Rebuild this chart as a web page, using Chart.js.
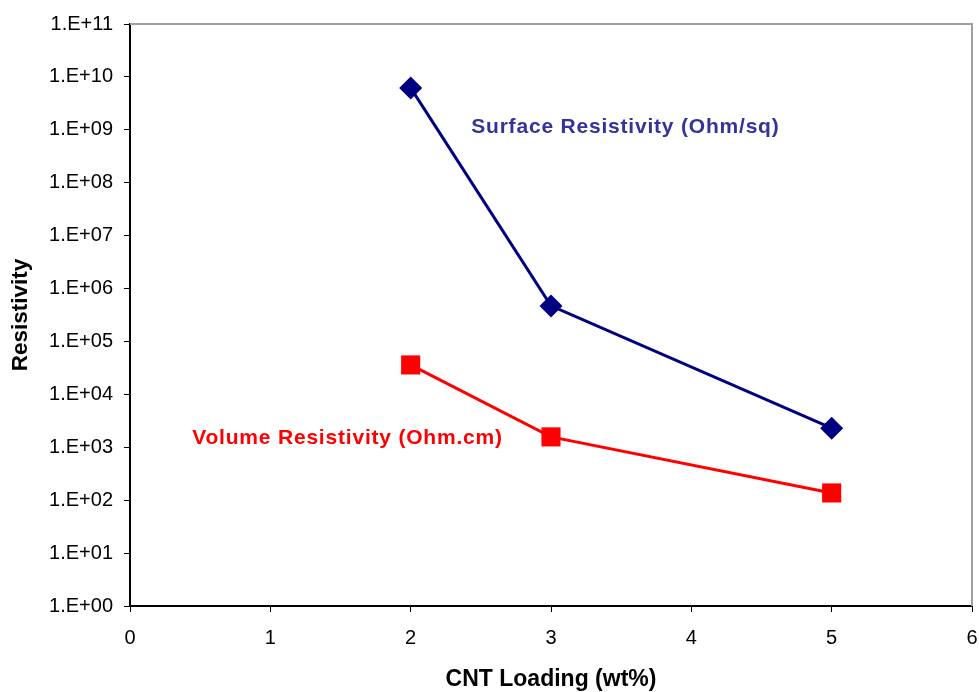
<!DOCTYPE html>
<html>
<head>
<meta charset="utf-8">
<script src="https://cdn.jsdelivr.net/npm/chart.js@4/dist/chart.umd.min.js"></script>
<style>
  html, body { margin: 0; padding: 0; background: #fff; }
  canvas { display: block; }
</style>
</head>
<body>
<canvas id="resChart" width="979" height="692"></canvas>
<script>
// data
const loading = [2, 3, 5];                     // CNT loading (wt%)
const surfaceRes = [6.2e9, 4.7e5, 2.3e3];      // Ohm/sq
const volumeRes = [3.6e4, 1.57e3, 1.37e2];     // Ohm.cm
const xTicks = [0, 1, 2, 3, 4, 5, 6];
const yExponents = [0, 1, 2, 3, 4, 5, 6, 7, 8, 9, 10, 11];

const FONT = "'Liberation Sans', Arial, sans-serif";

// in-plot series labels, placed in data coordinates
const seriesLabels = [
    { text: 'Surface Resistivity (Ohm/sq)', x: 3.53, y: 1.1e9, color: '#333399' },
    { text: 'Volume Resistivity (Ohm.cm)', x: 1.55, y: 1.5e3, color: '#ff0000' }
];

const framePlugin = {
    id: 'frame',
    afterDatasetsDraw(chart) {
        const { ctx, chartArea: a, scales } = chart;
        ctx.save();
        // grey top and right border like the excel plot area
        ctx.strokeStyle = '#a0a0a0';
        ctx.lineWidth = 2;
        ctx.beginPath();
        ctx.moveTo(a.left, a.top);
        ctx.lineTo(a.right, a.top);
        ctx.lineTo(a.right, a.bottom);
        ctx.stroke();

        ctx.font = 'bold 21px ' + FONT;
        ctx.letterSpacing = '0.8px';
        ctx.textAlign = 'center';
        ctx.textBaseline = 'middle';
        seriesLabels.forEach(l => {
            ctx.fillStyle = l.color;
            ctx.fillText(l.text, scales.x.getPixelForValue(l.x), scales.y.getPixelForValue(l.y));
        });
        ctx.restore();
    }
};

new Chart(document.getElementById('resChart'), {
    type: 'line',
    data: {
        datasets: [
            {
                label: 'Surface Resistivity (Ohm/sq)',
                data: loading.map((x, i) => ({ x: x, y: surfaceRes[i] })),
                borderColor: '#000080',
                backgroundColor: '#000080',
                borderWidth: 3,
                pointStyle: 'rectRot',
                pointRadius: 11.5,
                pointBorderWidth: 0,
                tension: 0
            },
            {
                label: 'Volume Resistivity (Ohm.cm)',
                data: loading.map((x, i) => ({ x: x, y: volumeRes[i] })),
                borderColor: '#ff0000',
                backgroundColor: '#ff0000',
                borderWidth: 3,
                pointStyle: 'rect',
                pointRadius: 13.5,
                pointBorderWidth: 0,
                tension: 0
            }
        ]
    },
    options: {
        responsive: false,
        animation: false,
        devicePixelRatio: 1,
        layout: { autoPadding: false, padding: { top: 24, right: 7, bottom: 0, left: 0 } },
        plugins: {
            legend: { display: false },
            tooltip: { enabled: false }
        },
        scales: {
            x: {
                type: 'linear',
                min: 0,
                max: 6,
                afterBuildTicks: s => { s.ticks = xTicks.map(v => ({ value: v })); },
                afterFit: s => { s.height = 86; s.paddingLeft = 0; s.paddingRight = 0; },
                grid: { drawOnChartArea: false, drawTicks: true, tickLength: 6, color: '#000' },
                border: { color: '#000', width: 2 },
                ticks: { color: '#000', padding: 14, font: { family: FONT, size: 20 } },
                title: {
                    display: true,
                    text: 'CNT Loading (wt%)',
                    color: '#000',
                    padding: { top: 0, bottom: -1 },
                    font: { family: FONT, size: 23, weight: 'bold' }
                }
            },
            y: {
                type: 'logarithmic',
                min: 1,
                max: 1e11,
                afterBuildTicks: s => { s.ticks = yExponents.map(e => ({ value: Math.pow(10, e) })); },
                afterFit: s => { s.width = 130; s.paddingTop = 0; s.paddingBottom = 0; },
                grid: { drawOnChartArea: false, drawTicks: true, tickLength: 6, color: '#000' },
                border: { color: '#000', width: 2 },
                ticks: {
                    color: '#000',
                    padding: 11,
                    font: { family: FONT, size: 20 },
                    callback: v => {
                        const e = Math.round(Math.log10(v));
                        return '1.E+' + String(e).padStart(2, '0');
                    }
                },
                title: {
                    display: true,
                    text: 'Resistivity',
                    color: '#000',
                    padding: { top: 7, bottom: 0 },
                    font: { family: FONT, size: 22.5, weight: 'bold' }
                }
            }
        }
    },
    plugins: [framePlugin]
});
</script>
</body>
</html>
